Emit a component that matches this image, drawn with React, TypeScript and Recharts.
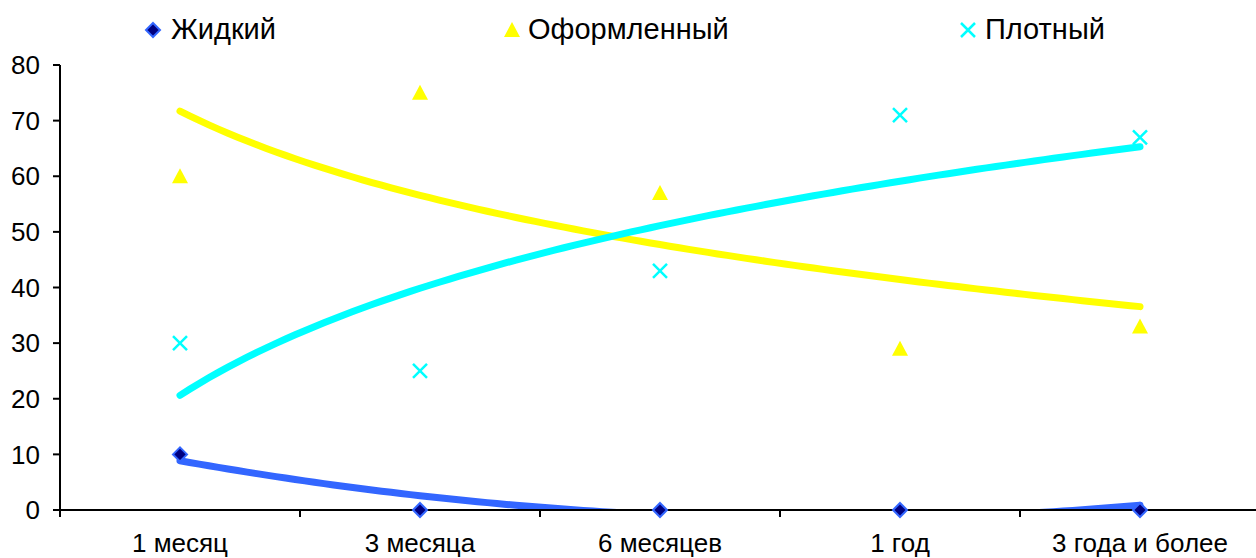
import React from 'react';
import { ComposedChart, Scatter, Line, XAxis, YAxis, Legend } from 'recharts';

const categories = ['1 месяц', '3 месяца', '6 месяцев', '1 год', '3 года и более'];
const seriesNames = ['Жидкий', 'Оформленный', 'Плотный'];
const liquid = [10, 0, 0, 0, 0];
const formed = [60, 75, 57, 29, 33];
const dense = [30, 25, 43, 71, 67];
const yTicks = [0, 10, 20, 30, 40, 50, 60, 70, 80];

const BLUE = '#3366FF';
const NAVY = '#000080';
const YELLOW = '#FFFF00';
const CYAN = '#00FFFF';
const FONT = '"Liberation Sans", Arial, sans-serif';

const WIDTH = 1256;
const HEIGHT = 558;
const Y_AXIS_W = 60;
const HALF_BAND = 120;

const xs = categories.map((_, i) => i + 1);
const toPoints = (vals: number[]) => vals.map((y, i) => ({ x: xs[i], y }));

// least squares fit over a set of basis functions
function fit(ys: number[], basis: ((x: number) => number)[]) {
  const n = basis.length;
  const A = basis.map((bi) => basis.map((bj) => xs.reduce((s, x) => s + bi(x) * bj(x), 0)));
  const b = basis.map((bi) => xs.reduce((s, x, k) => s + bi(x) * ys[k], 0));
  for (let c = 0; c < n; c++) {
    let p = c;
    for (let r = c + 1; r < n; r++) if (Math.abs(A[r][c]) > Math.abs(A[p][c])) p = r;
    [A[c], A[p]] = [A[p], A[c]];
    [b[c], b[p]] = [b[p], b[c]];
    for (let r = c + 1; r < n; r++) {
      const f = A[r][c] / A[c][c];
      for (let k = c; k < n; k++) A[r][k] -= f * A[c][k];
      b[r] -= f * b[c];
    }
  }
  const coef = new Array(n).fill(0);
  for (let r = n - 1; r >= 0; r--) {
    let s = b[r];
    for (let k = r + 1; k < n; k++) s -= A[r][k] * coef[k];
    coef[r] = s / A[r][r];
  }
  return (x: number) => basis.reduce((s, f, i) => s + coef[i] * f(x), 0);
}

const poly2 = [() => 1, (x: number) => x, (x: number) => x * x];
const logBasis = [() => 1, (x: number) => Math.log(x)];

const trendCurve = (f: (x: number) => number) => {
  const pts = [];
  for (let i = 0; i <= 100; i++) {
    const x = 1 + (4 * i) / 100;
    pts.push({ x, y: f(x) });
  }
  return pts;
};

const liquidTrend = trendCurve(fit(liquid, poly2));
const formedTrend = trendCurve(fit(formed, logBasis));
const denseTrend = trendCurve(fit(dense, logBasis));

const Diamond = ({ cx, cy }: any) => (
  <path d={`M${cx},${cy - 7}L${cx + 7},${cy}L${cx},${cy + 7}L${cx - 7},${cy}Z`} fill={NAVY} stroke={BLUE} strokeWidth={2} />
);
const Triangle = ({ cx, cy }: any) => (
  <path d={`M${cx},${cy - 8}L${cx + 8},${cy + 7}L${cx - 8},${cy + 7}Z`} fill={YELLOW} />
);
const Cross = ({ cx, cy }: any) => (
  <path d={`M${cx - 7},${cy - 7}L${cx + 7},${cy + 7}M${cx + 7},${cy - 7}L${cx - 7},${cy + 7}`} stroke={CYAN} strokeWidth={2.5} fill="none" />
);

const markers = [Diamond, Triangle, Cross];
const legendPos = [
  { marker: 153, text: 171 },
  { marker: 512, text: 528 },
  { marker: 968, text: 985 },
];

const renderLegend = () => (
  <div style={{ position: 'relative', width: WIDTH, height: 36, fontFamily: FONT, fontSize: 29, color: '#000' }}>
    {seriesNames.map((name, i) => {
      const M = markers[i];
      return (
        <React.Fragment key={name}>
          <svg width={20} height={20} style={{ position: 'absolute', left: legendPos[i].marker - 10, top: 9 }}>
            <M cx={10} cy={10} />
          </svg>
          <span style={{ position: 'absolute', left: legendPos[i].text, top: 0, lineHeight: '36px', whiteSpace: 'nowrap' }}>{name}</span>
        </React.Fragment>
      );
    })}
  </div>
);

const CategoryTick = ({ x, y, payload }: any) => {
  const idx = Math.round(payload.value - 0.5);
  if (idx < 0 || idx >= categories.length) return null;
  return (
    <text x={x + HALF_BAND} y={y} dy="0.71em" textAnchor="middle" fontFamily={FONT} fontSize={26} fill="#000">
      {categories[idx]}
    </text>
  );
};

export default function App() {
  return (
    <div style={{ position: 'absolute', top: 0, left: 0, width: WIDTH, height: HEIGHT, background: '#fff' }}>
      <ComposedChart width={WIDTH} height={HEIGHT} margin={{ top: 65, right: -4, bottom: 0, left: 0 }}>
        <XAxis
          type="number"
          dataKey="x"
          domain={[0.5, 5.5]}
          ticks={[0.5, 1.5, 2.5, 3.5, 4.5, 5.5]}
          interval={0}
          height={48}
          tickSize={7}
          tickMargin={17}
          stroke="#000"
          strokeWidth={2}
          tick={<CategoryTick />}
        />
        <YAxis
          dataKey="y"
          type="number"
          domain={[0, 80]}
          ticks={yTicks}
          interval={0}
          width={Y_AXIS_W}
          tickSize={7}
          tickMargin={13}
          stroke="#000"
          strokeWidth={2}
          tick={{ fill: '#000', fontSize: 26, fontFamily: FONT }}
        />
        <YAxis yAxisId="trend" dataKey="y" type="number" domain={[0, 80]} allowDataOverflow hide />
        <Legend verticalAlign="middle" align="center" wrapperStyle={{ top: 11, left: 0, width: WIDTH }} content={renderLegend} />
        <Scatter name={seriesNames[0]} data={toPoints(liquid)} shape={<Diamond />} isAnimationActive={false} />
        <Scatter name={seriesNames[1]} data={toPoints(formed)} shape={<Triangle />} isAnimationActive={false} />
        <Scatter name={seriesNames[2]} data={toPoints(dense)} shape={<Cross />} isAnimationActive={false} />
        <Line yAxisId="trend" data={liquidTrend} dataKey="y" type="linear" stroke={BLUE} strokeWidth={7} strokeLinecap="round" dot={false} activeDot={false} legendType="none" isAnimationActive={false} />
        <Line yAxisId="trend" data={formedTrend} dataKey="y" type="linear" stroke={YELLOW} strokeWidth={7} strokeLinecap="round" dot={false} activeDot={false} legendType="none" isAnimationActive={false} />
        <Line yAxisId="trend" data={denseTrend} dataKey="y" type="linear" stroke={CYAN} strokeWidth={7} strokeLinecap="round" dot={false} activeDot={false} legendType="none" isAnimationActive={false} />
      </ComposedChart>
    </div>
  );
}
